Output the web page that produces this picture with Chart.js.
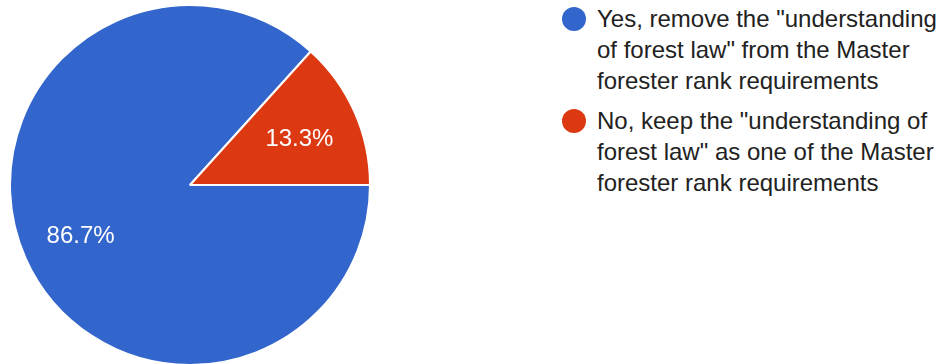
<!DOCTYPE html>
<html>
<head>
<meta charset="utf-8">
<script src="https://cdn.jsdelivr.net/npm/chart.js@4"></script>
<style>
  html, body { margin: 0; padding: 0; background: #fff; overflow: hidden; }
  body { width: 940px; height: 364px; position: relative; font-family: "Liberation Sans", Arial, sans-serif; }
  #pieBox { position: absolute; left: 9px; top: 4px; width: 362px; height: 362px; }
  #legend { position: absolute; left: 562px; top: 3px; margin: 0; padding: 0; list-style: none; }
  #legend li { position: relative; padding-left: 35px; margin-bottom: 9px; font-size: 24px; line-height: 31px; color: #222; white-space: nowrap; }
  #legend .dot { position: absolute; left: 0; top: 4px; width: 24px; height: 24px; border-radius: 50%; }
</style>
</head>
<body>
<div id="pieBox"><canvas id="pieChart"></canvas></div>
<ul id="legend"></ul>
<script>
  const labels = [
    ['Yes, remove the "understanding', 'of forest law" from the Master', 'forester rank requirements'],
    ['No, keep the "understanding of', 'forest law" as one of the Master', 'forester rank requirements']
  ];
  const values = [86.7, 13.3];
  const colors = ['#3366cc', '#dc3912'];

  // html legend, one item per slice
  const htmlLegend = {
    id: 'htmlLegend',
    afterUpdate(chart) {
      const ul = document.getElementById('legend');
      ul.innerHTML = '';
      chart.data.labels.forEach((lines, i) => {
        const li = document.createElement('li');
        const dot = document.createElement('span');
        dot.className = 'dot';
        dot.style.background = chart.data.datasets[0].backgroundColor[i];
        li.appendChild(dot);
        lines.forEach((line, j) => {
          if (j > 0) li.appendChild(document.createElement('br'));
          li.appendChild(document.createTextNode(line));
        });
        ul.appendChild(li);
      });
    }
  };

  // percentage text inside each slice
  const sliceLabels = {
    id: 'sliceLabels',
    afterDatasetsDraw(chart) {
      const ctx = chart.ctx;
      const data = chart.data.datasets[0].data;
      const total = data.reduce((a, b) => a + b, 0);
      ctx.save();
      ctx.font = '24px "Liberation Sans", Arial, sans-serif';
      ctx.fillStyle = '#fff';
      ctx.textAlign = 'center';
      ctx.textBaseline = 'middle';
      chart.getDatasetMeta(0).data.forEach((arc, i) => {
        const p = arc.getProps(['x', 'y', 'startAngle', 'endAngle', 'outerRadius']);
        const mid = (p.startAngle + p.endAngle) / 2;
        const r = p.outerRadius * 0.665;
        const pct = (data[i] / total * 100).toFixed(1) + '%';
        ctx.fillText(pct, p.x + Math.cos(mid) * r, p.y + Math.sin(mid) * r + 3);
      });
      ctx.restore();
    }
  };

  new Chart(document.getElementById('pieChart').getContext('2d'), {
    type: 'pie',
    data: {
      labels: labels,
      datasets: [{
        data: values,
        backgroundColor: colors,
        borderColor: '#fff',
        borderWidth: 2
      }]
    },
    options: {
      responsive: true,
      maintainAspectRatio: false,
      animation: false,
      rotation: 90,
      layout: { padding: 0 },
      plugins: {
        legend: { display: false },
        tooltip: { enabled: false }
      }
    },
    plugins: [htmlLegend, sliceLabels]
  });
</script>
</body>
</html>
